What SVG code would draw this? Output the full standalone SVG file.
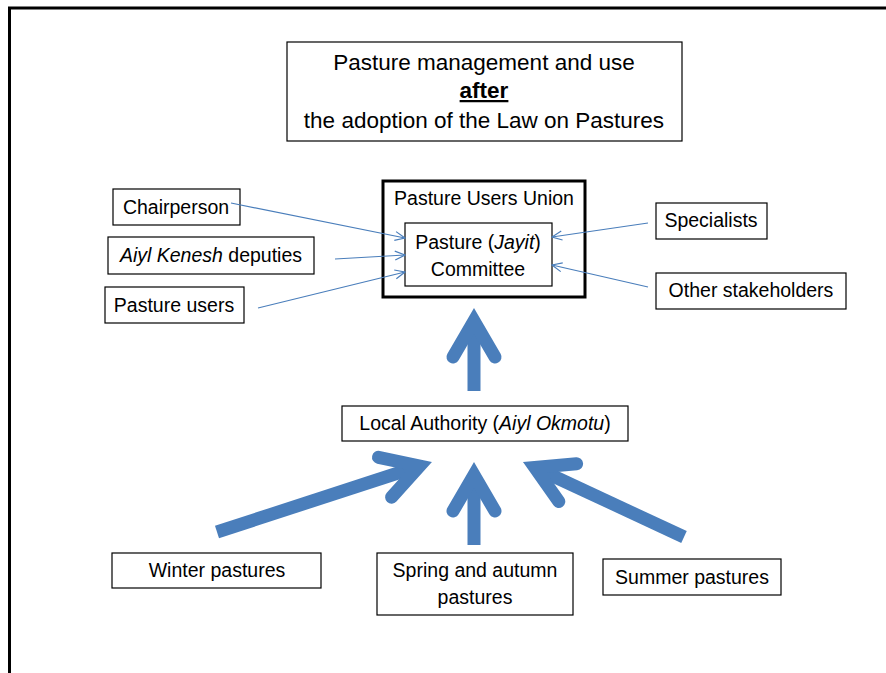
<svg xmlns="http://www.w3.org/2000/svg" width="886" height="673" viewBox="0 0 886 673">
<defs>
<style>
.box{fill:#fff;stroke:#000;stroke-width:1.2}
.t{font-family:"Liberation Sans",Arial,sans-serif;font-size:19.5px;fill:#000;text-anchor:middle}
.title{font-size:22.5px}
.thin{fill:none;stroke:#4a7ebb;stroke-width:1.2}
.shaft{fill:none;stroke:#4a7ebb;stroke-width:13;stroke-linecap:butt}
.head{fill:none;stroke:#4a7ebb;stroke-width:13;stroke-linecap:round;stroke-linejoin:miter;stroke-miterlimit:10}
</style>
<marker id="open" viewBox="0 0 12 12" refX="11" refY="6" markerWidth="12" markerHeight="12" markerUnits="userSpaceOnUse" orient="auto">
<path d="M1,1.5 L11,6 L1,10.5" fill="none" stroke="#4a7ebb" stroke-width="1.2"/>
</marker>
</defs>
<rect width="886" height="673" fill="#fff"/>
<path d="M9.5,673 V8 H886" fill="none" stroke="#000" stroke-width="3"/>

<g id="title">
<rect class="box" x="287" y="42" width="395" height="99"/>
<text class="t title" x="484" y="70">Pasture management and use</text>
<text class="t title" x="484" y="98" font-weight="bold" text-decoration="underline">after</text>
<text class="t title" x="484" y="128">the adoption of the Law on Pastures</text>
</g>

<g id="union">
<rect x="383" y="181" width="202" height="116" fill="#fff" stroke="#000" stroke-width="3"/>
<text class="t" x="484" y="205">Pasture Users Union</text>
</g>
<g id="committee">
<rect class="box" x="405" y="223" width="147" height="63"/>
<text class="t" x="478" y="249">Pasture (<tspan font-style="italic">Jayit</tspan>)</text>
<text class="t" x="478" y="276">Committee</text>
</g>

<g id="chairperson">
<rect class="box" x="113" y="189" width="127" height="36"/>
<text class="t" x="176" y="214">Chairperson</text>
</g>
<g id="deputies">
<rect class="box" x="108" y="237" width="206" height="37"/>
<text class="t" x="211" y="262"><tspan font-style="italic">Aiyl Kenesh</tspan> deputies</text>
</g>
<g id="users">
<rect class="box" x="105" y="287" width="139" height="36"/>
<text class="t" x="174" y="312">Pasture users</text>
</g>
<g id="specialists">
<rect class="box" x="656" y="203" width="111" height="36"/>
<text class="t" x="711" y="227">Specialists</text>
</g>
<g id="stakeholders">
<rect class="box" x="656" y="273" width="190" height="36"/>
<text class="t" x="751" y="297">Other stakeholders</text>
</g>

<g id="local-authority">
<rect class="box" x="342" y="406" width="286" height="35"/>
<text class="t" x="485" y="430">Local Authority (<tspan font-style="italic">Aiyl Okmotu</tspan>)</text>
</g>

<g id="winter">
<rect class="box" x="112" y="553" width="209" height="35"/>
<text class="t" x="217" y="577">Winter pastures</text>
</g>
<g id="spring">
<rect class="box" x="377" y="553" width="196" height="62"/>
<text class="t" x="475" y="577">Spring and autumn</text>
<text class="t" x="475" y="604">pastures</text>
</g>
<g id="summer">
<rect class="box" x="603" y="559" width="178" height="36"/>
<text class="t" x="692" y="584">Summer pastures</text>
</g>

<g id="connectors">
<line class="thin" x1="231" y1="203" x2="405" y2="238" marker-end="url(#open)"/>
<line class="thin" x1="335" y1="259" x2="405" y2="255" marker-end="url(#open)"/>
<line class="thin" x1="258" y1="308" x2="405" y2="272" marker-end="url(#open)"/>
<line class="thin" x1="648" y1="223" x2="552" y2="237" marker-end="url(#open)"/>
<line class="thin" x1="648" y1="287" x2="552" y2="265" marker-end="url(#open)"/>

<line class="shaft" x1="474" y1="391" x2="474" y2="325"/>
<path class="head" d="M453,357 L474,321 L495,357"/>

<line class="shaft" x1="217" y1="532" x2="415" y2="467.5"/>
<path class="head" d="M378.5,457.3 L419.6,466 L391.6,497.2"/>

<line class="shaft" x1="474" y1="545" x2="474" y2="479"/>
<path class="head" d="M453,511 L474,475 L495,511"/>

<line class="shaft" x1="684" y1="537" x2="539" y2="469.5"/>
<path class="head" d="M576.6,463.8 L534.8,467.5 L558.8,501.5"/>
</g>
</svg>
